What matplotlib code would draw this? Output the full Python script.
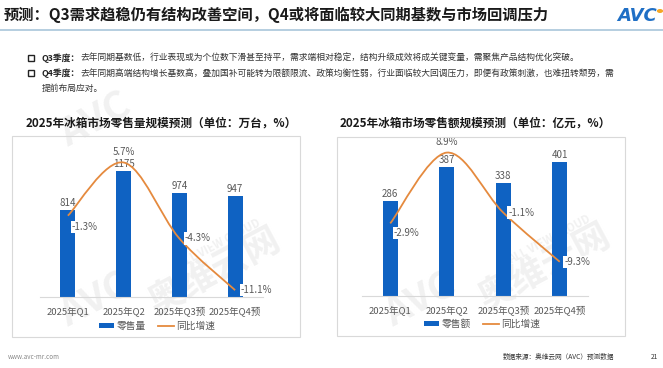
import matplotlib
matplotlib.use("Agg")
import matplotlib.pyplot as plt
from matplotlib.path import Path
from matplotlib.patches import PathPatch, Rectangle, Patch
from matplotlib.lines import Line2D
import numpy as np

plt.rcParams['font.family'] = ['Noto Sans CJK SC', 'DejaVu Sans']

# ---------------- data ----------------
categories = ['2025年Q1', '2025年Q2', '2025年Q3预', '2025年Q4预']
volume = [814, 1175, 974, 947]          # 万台
volume_yoy = [-1.3, 5.7, -4.3, -11.1]   # %
value = [286, 387, 338, 401]            # 亿元
value_yoy = [-2.9, 8.9, -1.1, -9.3]     # %

main_title = '预测：Q3需求趋稳仍有结构改善空间，Q4或将面临较大同期基数与市场回调压力'
bullet_q3_head = 'Q3季度：'
bullet_q3_body = '去年同期基数低，行业表现或为个位数下滑甚至持平，需求端相对稳定，结构升级成效将成关键变量，需聚焦产品结构优化突破。'
bullet_q4_head = 'Q4季度：'
bullet_q4_body = '去年同期高端结构增长基数高，叠加国补可能转为限额限流、政策均衡性弱，行业面临较大回调压力，即便有政策刺激，也难扭转颓势，需'
bullet_q4_body2 = '提前布局应对。'
title_left = '2025年冰箱市场零售量规模预测（单位：万台，%）'
title_right = '2025年冰箱市场零售额规模预测（单位：亿元，%）'

BLUE = '#0F62C2'
ORANGE = '#E58A3E'
GRAY = '#595959'

W, H = 663, 368
fig = plt.figure(figsize=(W / 100, H / 100), dpi=100)
renderer = fig.canvas.get_renderer()


def fx(x):
    return x / W


def fy(y):
    return 1 - y / H


def rect(x0, y0, x1, y1):
    return [fx(x0), fy(y1), fx(x1) - fx(x0), fy(y0) - fy(y1)]


# ---------------- watermarks ----------------
WM = '#F1F1F1'
for (wx, wy) in [(215, 272), (545, 268)]:
    fig.text(fx(wx), fy(wy), '奥维云网', fontsize=26, fontweight='bold', color=WM,
             rotation=28, ha='center', va='center', zorder=-5)
    fig.text(fx(wx + 5), fy(wy - 28), 'ALL VIEW CLOUD', fontsize=8, fontweight='bold', color=WM,
             rotation=28, ha='center', va='center', zorder=-5)
for (wx, wy) in [(95, 300), (420, 300), (95, 120)]:
    fig.text(fx(wx), fy(wy), 'AVC', fontsize=28, fontweight='bold', fontstyle='italic', color=WM,
             rotation=28, ha='center', va='center', zorder=-5)

# ---------------- header ----------------
fig.text(fx(4), fy(15), main_title, fontsize=11, fontweight='bold', color='#1A1A1A',
         ha='left', va='center')
fig.add_artist(Line2D([0, 1], [fy(30), fy(30)], color='#A9C6DA', lw=1.2))
fig.text(fx(617), fy(16), 'AVC', fontsize=13, fontweight='bold', fontstyle='italic',
         color='#1F6FC5', ha='left', va='center', family='DejaVu Sans')
fig.add_artist(plt.Circle((fx(660), fy(11)), 0.0035, transform=fig.transFigure, color='#F5A623'))


def bullet_line(y, head, body, box=True):
    if box:
        fig.add_artist(Rectangle((fx(27.5), fy(y + 3)), fx(6), 6 / H, transform=fig.transFigure,
                                 fill=False, edgecolor='#222222', lw=1.0))
    x0 = 42
    if head:
        t = fig.text(fx(x0), fy(y), head, fontsize=6.3, fontweight='bold', color='#222222',
                     ha='left', va='center')
        x0 += t.get_window_extent(renderer).width
    fig.text(fx(x0), fy(y), body, fontsize=6.3, color='#333333', ha='left', va='center')


bullet_line(58, bullet_q3_head, bullet_q3_body)
bullet_line(73, bullet_q4_head, bullet_q4_body)
bullet_line(88, None, bullet_q4_body2, box=False)

# footer
fig.text(fx(8), fy(357), 'www.avc-mr.com', fontsize=4.5, color='#888888', ha='left', va='center')
fig.text(fx(503), fy(357), '数据来源：奥维云网（AVC）预测数据', fontsize=4.8, color='#333333',
         ha='left', va='center')
fig.text(fx(651), fy(357), '21', fontsize=4.8, color='#333333', ha='left', va='center')


# ---------------- charts ----------------
def smooth_path(ax, xs, ys):
    """Bezier (Catmull-Rom style) smoothed path through the data points, built in display space."""
    pts = ax.transData.transform(np.column_stack([xs, ys]))
    n = len(pts)
    verts = [pts[0]]
    codes = [Path.MOVETO]
    for i in range(n - 1):
        p0 = pts[i - 1] if i > 0 else pts[i]
        p1 = pts[i]
        p2 = pts[i + 1]
        p3 = pts[i + 2] if i + 2 < n else pts[i + 1]
        c1 = p1 + (p2 - p0) / 6.0
        c2 = p2 - (p3 - p1) / 6.0
        verts += [c1, c2, p2]
        codes += [Path.CURVE4] * 3
    verts = ax.transData.inverted().transform(np.array(verts))
    return Path(verts, codes)


def draw_chart(ax_rect, cats, bars, yoy, ylim1, ylim2, bw, label_offsets,
               panel_rect, title, title_xy, legend_name, legend_xy):
    px0, py0, px1, py1 = panel_rect
    fig.add_artist(Rectangle((fx(px0), fy(py1)), fx(px1) - fx(px0), fy(py0) - fy(py1),
                             transform=fig.transFigure, fill=False, edgecolor='#D9D9D9', lw=0.8))
    fig.text(fx(title_xy[0]), fy(title_xy[1]), title, fontsize=8.4, fontweight='bold',
             color='#1A1A1A', ha='center', va='center')

    ax = fig.add_axes(ax_rect)
    ax.set_facecolor('none')
    x = np.arange(len(cats))
    ax.bar(x, bars, width=bw, color=BLUE, zorder=2)
    ax.set_xlim(-0.5, len(cats) - 0.5)
    ax.set_ylim(*ylim1)
    for s in ('top', 'left', 'right'):
        ax.spines[s].set_visible(False)
    ax.spines['bottom'].set_color('#D9D9D9')
    ax.spines['bottom'].set_linewidth(0.8)
    ax.set_yticks([])
    ax.set_xticks(x)
    ax.set_xticklabels(cats, fontsize=6.8, color=GRAY)
    ax.tick_params(axis='x', length=0, pad=6.5)
    for xi, v in zip(x, bars):
        ax.annotate(str(v), (xi, v), xytext=(0, 1.5), textcoords='offset points',
                    ha='center', va='bottom', fontsize=7, color=GRAY, zorder=3)

    ax2 = ax.twinx()
    ax2.set_ylim(*ylim2)
    ax2.set_xlim(-0.5, len(cats) - 0.5)
    ax2.axis('off')
    path = smooth_path(ax2, x, yoy)
    ax2.add_patch(PathPatch(path, facecolor='none', edgecolor=ORANGE, lw=1.3, zorder=4))
    for xi, v, (dx, dy, ha) in zip(x, yoy, label_offsets):
        ax2.annotate(f'{v:.1f}%', (xi, v), xytext=(dx, dy), textcoords='offset points',
                     ha=ha, va='center', fontsize=7, color=GRAY, zorder=5,
                     bbox=dict(boxstyle='square,pad=0.12', facecolor='white', edgecolor='none'))

    handles = [Patch(facecolor=BLUE, edgecolor='none'),
               Line2D([0], [0], color=ORANGE, lw=1.3)]
    fig.legend(handles, [legend_name, '同比增速'], loc='center',
               bbox_to_anchor=(fx(legend_xy[0]), fy(legend_xy[1])), ncol=2, frameon=False,
               fontsize=7, handlelength=1.6, handleheight=0.5, columnspacing=1.2,
               handletextpad=0.3, labelcolor=GRAY)


draw_chart(rect(40, 145, 263, 297), categories, volume, volume_yoy,
           (0, 1420), (-12, 8), 0.27,
           [(3, -8, 'left'), (0, 7.5, 'center'), (4, 0, 'left'), (4, 0, 'left')],
           (12, 136, 300, 337), title_left, (161, 123), '零售量', (157, 326))

draw_chart(rect(362, 146, 588, 296), categories, value, value_yoy,
           (0, 450), (-15, 10), 0.27,
           [(2.5, -7, 'left'), (0, 7.5, 'center'), (3.5, 0, 'left'), (3.5, 0, 'left')],
           (337, 137, 625, 336), title_right, (475, 123), '零售额', (482, 324))

fig.savefig('out.png', dpi=100)
